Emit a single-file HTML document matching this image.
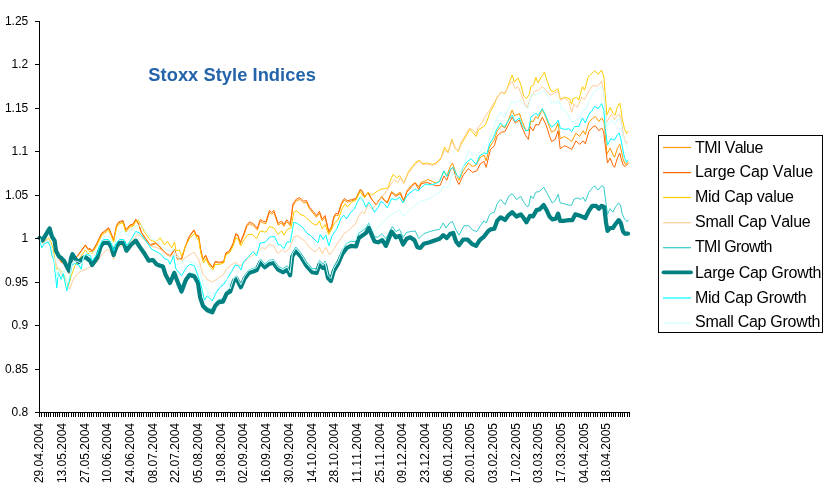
<!DOCTYPE html>
<html><head><meta charset="utf-8"><title>Stoxx Style Indices</title>
<style>html,body{margin:0;padding:0;background:#fff}svg{display:block}text{font-family:"Liberation Sans",Arial,sans-serif;font-kerning:none}</style></head><body>
<svg width="829" height="489" viewBox="0 0 829 489">
<rect width="829" height="489" fill="#fff"/>
<g fill="none" stroke-linejoin="round" stroke-linecap="round">
<polyline stroke="#FF9900" stroke-width="1.0" points="39.6,237.8 42.4,241.0 49.6,230.0 52.0,238.0 54.6,243.0 56.5,254.0 59.0,258.0 61.5,262.0 64.0,263.0 66.5,268.0 69.0,273.0 71.5,262.0 73.0,258.0 75.4,258.0 77.5,256.4 81.8,250.7 85.4,245.6 88.3,250.0 90.0,249.2 92.1,252.0 96.4,245.0 101.5,234.2 104.3,232.0 108.6,228.5 111.5,235.0 113.6,240.7 116.5,226.3 118.7,222.7 123.0,221.3 125.8,230.6 130.1,225.6 133.0,224.9 135.8,219.9 138.7,224.9 141.6,233.5 145.2,238.5 150.2,245.7 155.9,243.5 160.2,247.8 163.1,251.4 167.4,255.0 170.2,256.4 174.5,250.0 177.4,259.3 181.7,259.3 184.6,249.2 188.9,237.8 193.9,230.6 196.7,236.4 198.6,236.5 200.7,250.1 202.9,260.2 205.7,255.9 208.6,263.0 212.9,268.1 215.1,262.3 219.4,263.0 223.7,262.3 225.8,253.7 229.4,251.6 233.0,244.4 235.8,234.4 238.0,235.8 240.1,244.4 243.7,235.8 246.6,227.2 249.4,223.6 253.7,225.8 257.3,230.1 260.2,221.5 263.1,222.9 265.9,223.6 269.5,212.2 271.6,214.3 273.8,212.2 278.1,225.1 281.7,222.9 283.8,226.5 286.7,221.5 290.3,225.8 292.9,205.8 296.4,200.8 300.0,199.4 303.6,203.0 306.5,202.2 309.3,208.7 312.9,213.0 316.5,217.3 319.4,213.0 322.2,220.9 325.1,217.3 328.7,233.0 331.5,228.7 333.7,218.7 335.8,215.1 338.0,215.5 341.6,204.4 344.4,200.1 347.3,202.2 351.6,200.8 355.9,199.4 360.2,190.1 362.3,191.5 364.5,197.2 368.1,192.9 371.7,199.4 376.0,204.4 379.5,199.4 381.7,196.5 384.6,200.1 387.3,202.2 391.6,191.5 395.9,195.0 400.2,192.2 403.8,200.1 407.4,190.0 411.7,185.0 415.2,182.5 418.8,187.0 421.0,182.5 425.3,180.8 428.1,179.4 432.4,181.5 436.0,183.0 439.6,181.0 443.9,170.8 446.8,175.9 450.3,166.5 452.5,163.0 456.1,173.7 458.9,180.2 463.2,170.8 468.3,163.0 472.6,166.5 476.1,165.1 480.4,157.2 484.0,155.1 486.2,160.8 489.0,148.6 491.5,144.0 494.3,140.1 497.2,130.8 501.5,125.8 505.0,127.9 508.6,119.3 512.2,110.0 514.4,115.8 519.4,113.6 522.2,121.5 525.8,130.1 528.7,130.8 530.8,120.8 533.0,122.0 535.8,116.5 538.0,118.6 542.3,109.3 545.9,117.2 549.5,127.2 551.6,132.2 555.2,130.1 558.1,122.9 560.2,138.7 564.5,136.5 568.1,138.7 571.7,141.5 576.0,133.0 579.5,136.5 583.1,130.8 585.3,134.4 588.9,122.2 592.4,118.6 595.3,116.5 598.9,121.5 601.7,117.9 603.9,122.2 605.3,134.0 606.9,154.4 610.1,148.0 612.9,154.4 614.6,157.3 617.2,148.7 619.8,144.4 621.2,150.1 623.0,158.7 625.1,164.4 628.0,162.3"/>
<polyline stroke="#FF6600" stroke-width="1.0" points="39.6,238.3 42.4,241.5 49.6,230.5 52.0,238.5 54.6,243.5 56.5,254.5 59.0,258.5 61.5,262.5 64.0,263.5 66.5,268.5 69.0,273.5 71.5,262.5 73.0,258.5 75.4,258.5 77.5,255.6 81.8,249.9 85.4,244.8 88.3,249.2 90.0,248.4 92.1,251.2 96.4,244.2 101.5,233.4 104.3,231.2 108.6,227.7 111.5,234.2 113.6,239.9 116.5,225.5 118.7,221.9 123.0,220.5 125.8,229.8 130.1,224.8 133.0,224.1 135.8,219.1 138.7,224.1 141.6,232.7 145.2,237.7 150.2,244.9 155.9,242.7 160.2,247.0 163.1,250.6 167.4,254.2 170.2,255.6 174.5,249.2 177.4,258.5 181.7,258.5 184.6,248.4 188.9,237.0 193.9,229.8 196.7,235.6 198.6,235.7 200.7,249.3 202.9,259.4 205.7,255.1 208.6,262.2 212.9,267.3 215.1,261.5 219.4,262.2 223.7,261.5 225.8,252.9 229.4,250.8 233.0,243.6 235.8,233.6 238.0,235.0 240.1,242.6 243.7,234.0 246.6,225.4 249.4,221.8 253.7,224.0 257.3,228.3 260.2,219.7 263.1,221.1 265.9,221.8 269.5,210.4 271.6,212.5 273.8,210.4 278.1,223.3 281.7,221.1 283.8,224.7 286.7,219.7 290.3,224.0 292.9,204.0 296.4,199.0 300.0,197.6 303.6,201.2 306.5,200.4 309.3,206.9 312.9,211.2 316.5,215.5 319.4,211.2 322.2,219.1 325.1,215.5 328.7,231.2 331.5,226.9 333.7,216.9 335.8,213.3 338.0,213.7 341.6,202.7 344.4,198.5 347.3,200.8 351.6,199.6 355.9,198.5 360.2,189.4 362.3,190.9 364.5,196.7 368.1,192.6 371.7,199.3 376.0,204.6 379.5,199.8 381.7,197.0 384.6,200.8 387.3,203.0 391.6,192.5 395.9,196.3 400.2,193.7 403.8,201.6 406.7,192.3 411.7,186.6 415.2,183.0 418.8,189.5 421.0,184.0 426.7,182.3 432.4,184.5 436.0,185.9 440.3,185.2 443.9,175.9 446.8,180.2 450.3,170.1 453.2,167.3 456.1,178.7 458.9,184.5 463.2,175.1 468.3,168.7 472.6,172.3 476.9,170.8 480.4,163.7 484.0,161.5 486.2,167.3 489.0,155.1 490.5,149.4 494.3,145.8 497.2,135.8 501.5,132.2 505.0,131.5 508.6,124.4 512.2,117.2 515.1,122.9 519.4,120.1 522.2,127.9 525.8,135.8 528.4,139.4 530.1,126.5 533.0,130.8 535.8,124.4 538.7,125.1 542.3,117.2 545.9,124.4 549.5,135.8 551.6,141.5 555.2,139.4 558.1,130.8 560.2,148.7 564.5,145.8 568.1,147.3 571.7,149.4 576.0,140.8 579.5,144.4 583.1,140.8 585.3,143.7 588.9,131.5 592.4,127.2 595.3,125.8 598.9,130.8 601.7,127.9 603.6,131.5 605.5,147.2 607.5,163.0 610.1,158.0 612.9,165.2 614.6,167.3 617.2,158.7 619.8,153.0 621.2,158.7 623.2,165.2 625.1,166.6 628.0,163.7"/>
<polyline stroke="#FFCC00" stroke-width="1.0" points="39.6,237.8 42.0,243.0 45.0,241.0 48.5,238.0 51.0,242.0 53.5,250.0 56.0,269.3 58.9,268.0 61.8,272.1 64.7,276.4 68.2,286.5 71.1,276.4 74.7,266.4 77.5,262.0 81.8,255.0 85.4,250.0 88.3,254.0 90.0,250.7 92.1,253.5 96.4,246.5 101.5,235.7 104.3,233.5 108.6,230.0 111.5,236.5 113.6,242.2 116.5,227.8 118.7,224.2 123.0,222.8 125.8,232.1 130.1,227.1 133.0,226.4 135.8,221.4 138.7,220.6 144.4,232.0 150.2,240.0 155.9,242.0 160.2,237.8 164.5,245.0 167.4,241.4 171.7,247.8 174.5,242.0 176.0,250.7 179.5,250.0 181.7,256.4 185.3,246.4 189.6,238.5 194.6,233.5 197.4,239.2 198.6,238.7 200.7,253.0 203.6,263.0 205.7,258.7 209.3,265.9 212.9,270.0 215.1,264.5 219.4,264.5 223.7,263.0 225.8,255.2 229.4,253.0 233.0,246.6 235.8,238.0 238.0,238.7 240.8,245.8 244.4,239.4 248.0,234.4 252.3,234.4 256.6,238.7 260.2,230.8 263.1,231.5 265.9,232.2 269.5,226.5 273.8,227.9 278.1,234.4 281.7,230.8 283.8,235.1 287.4,229.4 291.0,227.9 293.8,212.2 296.7,210.7 300.0,214.4 304.3,215.8 308.6,220.1 312.9,223.7 316.5,225.2 319.4,220.9 322.2,228.7 325.1,224.4 328.7,234.5 331.5,229.5 334.4,223.0 338.0,220.1 342.3,208.0 345.2,203.7 347.3,207.2 351.6,202.2 355.9,200.1 360.2,191.5 364.5,197.9 368.1,192.2 371.7,195.1 376.0,192.2 380.3,189.3 384.6,188.6 388.1,187.9 390.3,180.7 393.2,174.3 396.7,177.9 399.6,175.7 403.9,183.0 408.1,172.3 412.4,166.5 416.0,162.2 419.5,160.1 422.4,163.7 427.4,163.0 432.4,164.4 436.0,163.0 441.0,158.0 444.6,147.2 448.2,152.2 451.8,139.3 455.4,148.6 458.2,151.5 461.1,144.3 465.4,137.2 469.7,129.3 473.3,132.9 476.1,136.5 478.3,130.0 482.6,127.1 485.4,125.0 488.0,118.0 490.0,112.3 493.6,105.8 497.2,97.2 501.5,92.2 505.0,93.7 508.6,84.4 512.2,75.0 514.4,82.2 517.9,77.9 520.8,84.4 523.7,95.8 526.5,98.7 529.4,94.4 530.8,86.5 533.7,85.1 535.8,77.2 538.0,82.9 541.6,76.5 544.4,72.2 547.3,81.5 550.9,90.8 553.8,91.5 558.1,88.7 560.2,99.4 564.5,97.2 569.5,98.7 571.7,104.4 573.1,98.7 576.7,97.2 578.8,100.1 582.4,86.5 584.6,90.1 588.1,77.2 590.3,75.0 594.6,70.7 598.2,74.3 601.7,70.0 603.9,77.2 605.3,95.8 606.9,115.2 610.1,107.3 612.9,113.0 615.1,115.2 617.2,107.3 619.7,103.0 620.8,108.5 622.2,118.6 624.4,128.6 626.5,133.6 628.0,131.5"/>
<polyline stroke="#FFCC99" stroke-width="1.0" points="39.6,237.8 43.0,242.0 47.0,240.0 50.3,244.0 53.2,255.7 57.5,267.8 61.8,275.0 66.8,282.0 69.7,289.3 73.2,279.3 77.5,273.6 81.8,270.7 86.1,269.3 90.4,266.4 94.0,264.5 97.2,262.0 100.7,256.4 104.3,252.0 107.9,249.2 111.5,253.5 113.6,259.3 117.2,249.2 120.8,245.7 124.4,246.4 126.5,247.0 131.5,240.7 137.3,234.9 140.1,235.6 147.3,242.8 151.6,246.4 157.3,247.8 161.6,250.0 167.4,255.0 171.7,256.4 176.0,253.5 181.7,260.7 187.4,256.4 193.7,252.1 198.7,259.3 203.0,274.4 207.3,279.4 212.3,282.2 217.3,278.7 223.0,275.1 226.6,268.6 230.8,265.2 235.8,262.3 240.1,265.9 244.4,262.3 249.4,257.3 253.7,254.4 258.0,251.6 262.3,247.3 265.0,249.4 269.3,244.4 273.6,245.8 277.9,253.7 282.2,249.4 285.1,252.2 289.4,248.7 293.7,237.2 297.2,235.8 303.7,240.1 309.4,247.2 315.1,252.2 319.4,247.2 322.3,253.7 325.9,247.2 329.5,255.1 333.8,249.4 338.1,242.2 341.6,238.0 343.7,233.8 347.3,231.6 351.6,227.3 355.2,224.5 358.8,215.8 362.3,211.5 364.5,213.7 368.1,204.4 372.4,209.4 376.0,204.4 378.8,201.5 381.7,197.2 384.6,193.6 388.1,188.6 391.0,184.3 394.6,179.3 397.4,182.9 400.3,177.9 403.9,183.5 408.1,173.7 412.4,168.0 416.0,163.7 419.5,161.0 422.4,164.5 427.4,164.0 432.4,165.4 436.0,164.0 441.0,159.0 444.6,150.0 448.2,153.0 451.8,141.0 455.4,148.0 458.2,151.0 461.1,142.2 465.4,135.0 469.7,127.9 473.3,130.5 476.1,133.6 478.3,127.1 481.0,124.0 485.0,117.0 490.0,109.4 495.7,100.1 500.7,92.2 505.0,93.0 508.6,85.8 512.2,81.5 515.1,88.7 517.9,86.5 520.8,93.0 524.4,103.0 527.2,108.0 530.1,98.7 534.4,91.5 538.7,90.1 542.3,86.5 545.9,90.1 550.2,95.1 554.5,93.0 558.1,91.5 560.9,100.1 564.5,98.0 568.8,101.5 571.7,112.3 573.8,104.4 577.4,107.3 581.7,97.2 584.6,99.4 588.9,90.8 593.2,85.1 597.4,86.5 601.3,81.5 603.4,88.7 604.6,103.0 606.5,123.0 609.3,117.3 611.5,114.4 614.4,119.5 617.2,115.9 619.4,114.4 620.8,118.5 622.7,130.1 624.4,138.7 626.5,143.0 628.0,142.0"/>
<polyline stroke="#33CCCC" stroke-width="1.0" points="39.6,237.8 42.4,240.5 49.6,228.2 51.8,236.1 54.6,240.4 56.0,250.4 58.9,256.1 61.0,257.5 63.9,260.3 66.0,264.6 69.0,270.3 71.1,257.3 72.5,253.7 75.4,258.7 79.0,261.5 83.3,257.1 85.4,256.4 89.0,259.3 90.0,259.9 92.1,264.2 97.2,256.9 100.7,245.5 103.6,241.8 108.6,241.8 111.5,246.7 113.6,253.9 116.5,245.3 119.4,241.6 123.7,241.6 126.5,249.4 130.8,243.6 135.8,239.3 139.4,244.9 144.4,251.9 148.7,259.1 153.0,258.3 156.6,262.6 160.0,264.0 162.9,264.7 165.7,273.2 170.0,281.1 174.3,270.9 178.6,282.3 181.5,289.4 185.8,277.9 189.4,272.9 194.4,274.2 198.0,280.7 200.1,294.9 203.0,303.5 207.3,307.7 212.3,309.7 215.2,303.3 218.7,299.6 223.0,298.9 226.6,290.9 230.2,288.7 233.8,277.9 236.6,275.8 240.9,284.2 244.5,275.7 248.8,269.8 253.1,268.3 256.7,266.8 260.3,258.9 264.6,263.9 269.3,260.3 273.6,259.5 277.9,265.9 282.9,268.7 287.2,265.7 290.1,271.5 292.2,252.8 295.8,247.0 300.8,252.6 306.5,262.0 312.3,268.3 316.6,268.9 319.4,260.3 323.0,263.8 325.2,260.9 328.0,273.7 330.9,276.6 333.8,266.6 338.1,259.3 342.4,249.2 346.7,243.5 351.0,241.2 356.0,241.8 358.8,233.2 363.1,230.3 366.0,228.1 368.9,223.0 371.7,230.2 374.6,236.6 378.0,237.3 381.6,233.7 385.9,238.7 392.3,226.6 395.9,231.6 399.5,229.4 403.1,237.3 406.7,232.3 411.0,231.6 415.2,230.9 418.8,238.7 423.8,233.7 429.6,231.6 435.3,230.1 439.6,229.4 443.2,223.0 446.0,228.0 449.6,223.0 452.5,221.5 456.1,230.1 459.0,235.2 464.0,225.8 469.0,225.8 472.6,230.1 476.9,231.6 480.4,225.8 484.0,220.8 486.2,223.0 489.7,214.4 492.0,213.0 494.3,212.2 497.2,203.7 500.7,199.4 505.0,204.4 508.6,196.5 512.2,193.6 516.5,199.4 520.8,196.5 523.7,202.2 527.0,206.5 528.7,206.0 530.8,195.8 533.0,198.6 535.8,192.2 539.4,191.5 543.7,187.2 546.6,192.2 549.5,197.9 552.3,202.9 555.2,200.8 558.1,194.3 560.2,202.9 564.5,203.7 568.1,205.1 571.7,205.1 573.8,199.4 577.4,197.9 581.0,199.4 583.1,197.2 585.3,201.5 588.9,192.2 592.4,187.9 594.6,185.7 598.2,190.0 601.7,185.7 603.9,187.2 605.3,198.0 607.5,214.4 610.1,208.7 612.9,212.2 615.8,206.5 618.7,202.9 620.4,205.1 622.2,213.7 624.4,218.7 627.0,221.6 628.0,220.1"/>
<polyline stroke="#008080" stroke-width="4.2" points="39.6,237.8 42.4,240.6 49.6,228.4 51.8,236.3 54.6,240.6 56.0,250.7 58.9,256.4 61.0,257.8 63.9,260.7 66.0,265.0 69.0,270.7 71.1,257.8 72.5,254.2 75.4,259.2 79.0,262.1 83.3,257.8 85.4,257.1 89.0,260.0 90.0,260.7 92.1,265.0 97.2,257.8 100.7,246.4 103.6,242.8 108.6,242.8 111.5,247.8 113.6,255.0 116.5,246.4 119.4,242.8 123.7,242.8 126.5,250.7 130.8,245.0 135.8,240.7 139.4,246.4 144.4,253.5 148.7,260.7 153.0,260.0 156.6,264.3 160.0,265.8 162.9,266.5 165.7,275.1 170.0,283.0 174.3,272.9 178.6,284.4 181.5,291.5 185.8,280.1 189.4,275.1 194.4,276.5 198.0,283.0 200.1,297.3 203.0,305.9 207.3,310.2 212.3,312.3 215.2,305.9 218.7,302.3 223.0,301.6 226.6,293.7 230.2,291.5 233.8,280.8 236.6,278.7 240.9,287.2 244.5,278.7 248.8,272.9 253.1,271.5 256.7,270.0 260.3,262.2 264.6,267.2 269.3,263.7 273.6,263.0 277.9,269.4 282.9,272.3 287.2,269.4 290.1,275.2 292.2,256.5 295.8,250.8 300.8,256.5 306.5,265.9 312.3,272.3 316.6,273.0 319.4,264.4 323.0,268.0 325.2,265.1 328.0,278.0 330.9,280.9 333.8,270.9 338.1,263.7 342.4,253.7 346.7,248.0 351.0,245.8 356.0,246.5 358.8,237.9 363.1,235.1 366.0,232.9 368.9,227.9 371.7,235.1 374.6,241.5 378.0,242.3 382.3,240.2 385.9,245.9 391.6,231.6 395.9,237.3 399.5,235.9 403.1,244.5 406.7,238.7 410.2,237.3 414.5,240.2 417.4,247.3 420.3,248.0 423.8,243.8 429.6,242.3 435.3,240.2 439.6,238.7 443.2,235.2 446.8,238.0 450.4,233.7 453.2,233.0 456.1,241.6 459.0,245.2 463.2,239.5 467.5,239.5 471.8,243.8 476.1,245.9 479.7,240.2 484.0,236.6 488.3,230.9 490.5,229.4 494.3,228.7 497.2,220.8 500.7,217.3 505.0,220.1 508.6,215.1 512.2,212.2 516.5,216.5 520.8,214.4 523.7,218.0 526.5,222.3 530.1,215.8 533.0,216.5 536.6,210.1 539.4,209.4 543.7,205.1 546.6,210.1 549.5,216.5 552.3,219.4 555.9,218.7 558.1,213.7 560.2,220.8 564.5,220.8 568.8,220.1 572.4,220.1 575.2,214.4 580.3,215.8 585.3,218.0 588.9,210.8 592.4,205.8 596.0,205.8 598.9,208.7 601.7,205.8 604.3,207.2 606.0,222.3 607.5,230.9 610.1,228.0 612.9,228.0 615.8,223.7 618.7,220.1 620.8,223.0 623.0,231.6 625.1,233.7 628.0,233.7"/>
<polyline stroke="#00FFFF" stroke-width="1.0" points="39.6,237.8 41.7,247.8 44.6,243.5 48.2,242.0 50.3,246.4 51.8,255.0 53.9,260.7 56.8,287.9 58.2,272.0 61.0,279.3 63.2,273.6 66.8,290.8 69.7,279.3 71.8,265.0 74.7,263.5 79.0,265.0 81.1,269.3 83.3,257.8 86.1,254.2 90.4,255.7 92.1,261.0 97.2,254.0 100.7,243.0 103.6,239.5 108.6,239.5 111.5,244.0 113.6,251.0 116.5,243.0 119.4,239.5 123.7,239.5 126.5,246.0 130.8,240.0 135.8,231.3 140.1,233.5 147.3,242.8 151.6,249.2 157.3,252.1 161.6,255.0 164.3,258.6 168.1,260.0 170.0,264.3 173.6,255.7 175.8,268.6 181.5,275.8 186.5,267.2 190.1,264.3 194.4,265.8 198.0,275.8 200.8,284.4 204.4,300.1 207.3,295.8 212.3,300.9 215.9,293.0 220.2,287.2 223.8,284.4 227.3,278.7 231.6,271.5 235.2,265.0 238.0,265.5 240.9,270.0 243.7,261.6 248.0,257.3 253.0,251.6 256.6,255.9 260.2,243.0 265.2,242.3 269.5,237.2 274.5,236.5 278.1,244.4 281.0,245.1 283.8,248.7 287.4,241.5 290.3,242.3 293.8,222.2 297.4,223.6 302.5,227.2 306.8,233.0 310.8,235.8 315.1,240.1 318.0,242.9 320.2,234.3 323.0,239.4 325.9,235.1 328.8,245.8 332.3,235.1 336.6,229.3 340.9,218.7 343.7,215.1 346.6,218.7 350.2,213.0 354.5,208.7 357.3,202.2 360.2,197.2 363.1,200.8 365.9,207.2 368.8,202.2 371.7,206.5 374.5,212.3 378.1,207.5 380.9,201.5 384.0,203.5 387.3,207.9 391.6,198.6 395.9,200.1 399.5,197.2 403.1,202.9 406.7,196.0 411.0,192.0 415.2,189.0 418.1,191.0 421.7,187.0 426.0,184.0 430.3,185.0 435.3,183.7 439.6,181.5 443.9,170.8 446.8,176.6 450.3,169.4 453.2,167.3 456.8,175.1 459.7,178.0 463.2,166.5 467.5,161.5 471.1,158.7 476.1,164.4 479.7,155.8 484.0,152.9 486.9,153.7 489.7,143.6 492.9,138.7 496.4,130.1 500.7,122.9 504.3,127.2 508.6,120.1 512.2,115.0 515.1,121.5 519.4,117.9 522.2,125.1 525.8,130.8 528.7,130.1 530.8,117.2 534.4,114.3 535.8,112.9 538.0,115.8 542.3,108.6 545.2,114.3 548.7,122.9 551.6,127.2 555.2,124.4 558.1,120.1 560.2,127.9 564.5,129.4 568.8,128.7 571.7,131.5 574.5,126.5 578.8,126.5 582.4,117.9 585.3,122.9 588.9,114.3 592.4,110.0 594.6,106.4 598.2,108.6 601.7,103.6 603.9,110.7 605.3,128.7 607.5,145.1 610.8,138.7 614.4,140.1 617.2,135.1 619.1,132.9 620.8,138.7 622.7,148.7 624.4,157.3 626.5,162.3 628.0,160.1"/>
<polyline stroke="#CCFFFF" stroke-width="1.0" points="39.6,237.8 42.0,245.0 45.0,242.0 48.5,240.0 51.0,245.0 54.0,258.0 57.0,278.0 59.0,268.0 62.0,274.0 64.0,270.0 67.0,284.0 70.0,275.0 72.0,263.0 75.0,261.0 79.0,262.0 82.0,264.0 84.0,256.0 87.0,252.0 90.4,253.0 97.0,250.0 101.0,241.0 104.0,237.0 108.6,236.0 111.5,241.0 113.6,247.0 116.5,238.0 119.4,233.0 124.4,230.6 127.0,236.0 130.8,230.0 134.4,226.3 141.6,225.6 150.2,236.4 157.0,242.0 161.6,246.0 166.0,250.0 170.2,250.7 173.6,249.0 176.0,256.0 181.7,262.1 186.5,260.0 190.0,262.5 194.4,262.2 199.4,268.6 203.0,284.4 205.8,287.2 210.1,297.3 214.4,293.0 220.2,285.8 224.5,281.5 227.5,279.0 230.2,289.0 233.8,278.3 236.6,276.2 240.9,284.7 244.5,276.2 248.8,270.4 253.1,269.0 256.7,267.5 260.3,259.7 264.6,264.7 269.3,261.2 273.6,260.5 277.9,266.9 282.9,269.8 287.2,266.9 290.1,272.7 292.2,254.0 295.8,248.3 300.8,254.0 306.5,263.4 312.3,269.8 316.6,270.5 319.4,261.9 323.0,265.5 325.2,262.6 328.0,275.5 330.9,278.4 333.8,268.4 338.1,261.2 342.4,250.0 345.2,243.7 351.0,240.0 356.0,240.0 358.0,229.3 363.0,229.0 368.9,222.0 373.1,231.0 375.3,230.8 378.0,228.0 382.3,222.3 386.6,218.7 392.3,214.4 399.5,210.1 403.1,216.5 411.0,208.7 416.7,204.4 419.5,201.5 425.3,200.1 431.0,197.9 435.3,194.3 439.6,193.0 443.2,186.6 446.8,188.0 449.6,185.2 452.5,172.3 456.1,176.6 459.7,175.1 464.0,163.7 469.0,150.8 471.8,154.4 476.9,155.8 480.4,150.8 484.7,147.2 488.3,145.1 490.0,137.2 493.6,128.7 497.2,117.3 500.7,112.3 504.3,117.3 507.9,110.1 511.5,101.5 515.1,103.0 520.1,100.1 524.4,105.8 528.0,108.7 531.5,95.1 535.8,94.4 540.1,93.0 543.7,90.1 547.3,95.1 551.6,103.0 554.5,101.5 556.0,104.3 558.8,100.1 561.6,109.4 564.5,110.1 568.1,114.4 571.7,122.3 576.0,120.2 579.5,118.7 583.1,110.1 586.0,109.4 589.6,99.4 593.2,93.0 597.4,89.4 601.7,86.5 603.9,93.0 605.3,112.0 606.5,127.0 608.6,123.0 611.5,120.2 614.4,124.5 617.2,120.2 619.4,118.7 620.8,122.0 622.2,131.5 624.4,141.5 627.5,148.7"/>
</g>
<g stroke="#000" stroke-width="1" shape-rendering="crispEdges" fill="none">
<line x1="39.5" y1="21" x2="39.5" y2="413"/>
<line x1="39" y1="412.5" x2="630" y2="412.5"/>
<path d="M35,21.5H39M35,64.5H39M35,108.5H39M35,151.5H39M35,195.5H39M35,238.5H39M35,282.5H39M35,325.5H39M35,369.5H39M35,412.5H39"/>
<path d="M39.5,412V417M41.5,412V417M44.5,412V417M46.5,412V417M48.5,412V417M50.5,412V417M53.5,412V417M55.5,412V417M57.5,412V417M59.5,412V417M62.5,412V417M64.5,412V417M66.5,412V417M68.5,412V417M71.5,412V417M73.5,412V417M75.5,412V417M78.5,412V417M80.5,412V417M82.5,412V417M84.5,412V417M87.5,412V417M89.5,412V417M91.5,412V417M93.5,412V417M96.5,412V417M98.5,412V417M100.5,412V417M103.5,412V417M105.5,412V417M107.5,412V417M109.5,412V417M112.5,412V417M114.5,412V417M116.5,412V417M118.5,412V417M121.5,412V417M123.5,412V417M125.5,412V417M128.5,412V417M130.5,412V417M132.5,412V417M134.5,412V417M137.5,412V417M139.5,412V417M141.5,412V417M143.5,412V417M146.5,412V417M148.5,412V417M150.5,412V417M152.5,412V417M155.5,412V417M157.5,412V417M159.5,412V417M162.5,412V417M164.5,412V417M166.5,412V417M168.5,412V417M171.5,412V417M173.5,412V417M175.5,412V417M177.5,412V417M180.5,412V417M182.5,412V417M184.5,412V417M186.5,412V417M189.5,412V417M191.5,412V417M193.5,412V417M196.5,412V417M198.5,412V417M200.5,412V417M202.5,412V417M205.5,412V417M207.5,412V417M209.5,412V417M211.5,412V417M214.5,412V417M216.5,412V417M218.5,412V417M221.5,412V417M223.5,412V417M225.5,412V417M227.5,412V417M230.5,412V417M232.5,412V417M234.5,412V417M236.5,412V417M239.5,412V417M241.5,412V417M243.5,412V417M246.5,412V417M248.5,412V417M250.5,412V417M252.5,412V417M255.5,412V417M257.5,412V417M259.5,412V417M261.5,412V417M264.5,412V417M266.5,412V417M268.5,412V417M270.5,412V417M273.5,412V417M275.5,412V417M277.5,412V417M280.5,412V417M282.5,412V417M284.5,412V417M286.5,412V417M289.5,412V417M291.5,412V417M293.5,412V417M295.5,412V417M298.5,412V417M300.5,412V417M302.5,412V417M304.5,412V417M307.5,412V417M309.5,412V417M311.5,412V417M314.5,412V417M316.5,412V417M318.5,412V417M320.5,412V417M323.5,412V417M325.5,412V417M327.5,412V417M329.5,412V417M332.5,412V417M334.5,412V417M336.5,412V417M339.5,412V417M341.5,412V417M343.5,412V417M345.5,412V417M348.5,412V417M350.5,412V417M352.5,412V417M354.5,412V417M357.5,412V417M359.5,412V417M361.5,412V417M364.5,412V417M366.5,412V417M368.5,412V417M370.5,412V417M373.5,412V417M375.5,412V417M377.5,412V417M379.5,412V417M382.5,412V417M384.5,412V417M386.5,412V417M388.5,412V417M391.5,412V417M393.5,412V417M395.5,412V417M398.5,412V417M400.5,412V417M402.5,412V417M404.5,412V417M407.5,412V417M409.5,412V417M411.5,412V417M413.5,412V417M416.5,412V417M418.5,412V417M420.5,412V417M422.5,412V417M425.5,412V417M427.5,412V417M429.5,412V417M432.5,412V417M434.5,412V417M436.5,412V417M438.5,412V417M441.5,412V417M443.5,412V417M445.5,412V417M447.5,412V417M450.5,412V417M452.5,412V417M454.5,412V417M457.5,412V417M459.5,412V417M461.5,412V417M463.5,412V417M466.5,412V417M468.5,412V417M470.5,412V417M472.5,412V417M475.5,412V417M477.5,412V417M479.5,412V417M482.5,412V417M484.5,412V417M486.5,412V417M488.5,412V417M491.5,412V417M493.5,412V417M495.5,412V417M497.5,412V417M500.5,412V417M502.5,412V417M504.5,412V417M506.5,412V417M509.5,412V417M511.5,412V417M513.5,412V417M516.5,412V417M518.5,412V417M520.5,412V417M522.5,412V417M525.5,412V417M527.5,412V417M529.5,412V417M531.5,412V417M534.5,412V417M536.5,412V417M538.5,412V417M540.5,412V417M543.5,412V417M545.5,412V417M547.5,412V417M550.5,412V417M552.5,412V417M554.5,412V417M556.5,412V417M559.5,412V417M561.5,412V417M563.5,412V417M565.5,412V417M568.5,412V417M570.5,412V417M572.5,412V417M575.5,412V417M577.5,412V417M579.5,412V417M581.5,412V417M584.5,412V417M586.5,412V417M588.5,412V417M590.5,412V417M593.5,412V417M595.5,412V417M597.5,412V417M600.5,412V417M602.5,412V417M604.5,412V417M606.5,412V417M609.5,412V417M611.5,412V417M613.5,412V417M615.5,412V417M618.5,412V417M620.5,412V417M622.5,412V417M624.5,412V417M627.5,412V417M629.5,412V417"/>
</g>
<g font-size="12" text-anchor="end" fill="#000">
<text x="28.3" y="25.0">1.25</text>
<text x="28.3" y="68.4">1.2</text>
<text x="28.3" y="111.9">1.15</text>
<text x="28.3" y="155.3">1.1</text>
<text x="28.3" y="198.8">1.05</text>
<text x="28.3" y="242.2">1</text>
<text x="28.3" y="285.7">0.95</text>
<text x="28.3" y="329.1">0.9</text>
<text x="28.3" y="372.6">0.85</text>
<text x="28.3" y="416.0">0.8</text>
</g>
<g font-size="12" text-anchor="end" fill="#000">
<text transform="translate(43.3,423) rotate(-90)">29.04.2004</text>
<text transform="translate(66.0,423) rotate(-90)">13.05.2004</text>
<text transform="translate(88.7,423) rotate(-90)">27.05.2004</text>
<text transform="translate(111.3,423) rotate(-90)">10.06.2004</text>
<text transform="translate(134.0,423) rotate(-90)">24.06.2004</text>
<text transform="translate(156.7,423) rotate(-90)">08.07.2004</text>
<text transform="translate(179.4,423) rotate(-90)">22.07.2004</text>
<text transform="translate(202.1,423) rotate(-90)">05.08.2004</text>
<text transform="translate(224.7,423) rotate(-90)">19.08.2004</text>
<text transform="translate(247.4,423) rotate(-90)">02.09.2004</text>
<text transform="translate(270.1,423) rotate(-90)">16.09.2004</text>
<text transform="translate(292.8,423) rotate(-90)">30.09.2004</text>
<text transform="translate(315.5,423) rotate(-90)">14.10.2004</text>
<text transform="translate(338.1,423) rotate(-90)">28.10.2004</text>
<text transform="translate(360.8,423) rotate(-90)">11.11.2004</text>
<text transform="translate(383.5,423) rotate(-90)">25.11.2004</text>
<text transform="translate(406.2,423) rotate(-90)">09.12.2004</text>
<text transform="translate(428.9,423) rotate(-90)">23.12.2004</text>
<text transform="translate(451.5,423) rotate(-90)">06.01.2005</text>
<text transform="translate(474.2,423) rotate(-90)">20.01.2005</text>
<text transform="translate(496.9,423) rotate(-90)">03.02.2005</text>
<text transform="translate(519.6,423) rotate(-90)">17.02.2005</text>
<text transform="translate(542.3,423) rotate(-90)">03.03.2005</text>
<text transform="translate(564.9,423) rotate(-90)">17.03.2005</text>
<text transform="translate(587.6,423) rotate(-90)">04.04.2005</text>
<text transform="translate(610.3,423) rotate(-90)">18.04.2005</text>
</g>
<text x="148.3" y="81.2" font-size="18.3" font-weight="bold" fill="#2464AA" textLength="167.5" lengthAdjust="spacing">Stoxx Style Indices</text>
<rect x="658.5" y="135.5" width="164" height="197" fill="#fff" stroke="#000" stroke-width="1" shape-rendering="crispEdges"/>
<clipPath id="lc"><rect x="659" y="136" width="163" height="196"/></clipPath>
<g clip-path="url(#lc)" font-size="16" fill="#000">
<line x1="663" y1="147.5" x2="691" y2="147.5" stroke="#FF9900" stroke-width="1.2"/>
<text x="695" y="152.6" textLength="68.3" lengthAdjust="spacing">TMI Value</text>
<line x1="663" y1="172.6" x2="691" y2="172.6" stroke="#FF6600" stroke-width="1.2"/>
<text x="695" y="177.3" textLength="118.2" lengthAdjust="spacing">Large Cap Value</text>
<line x1="663" y1="197.5" x2="691" y2="197.5" stroke="#FFCC00" stroke-width="1.2"/>
<text x="695" y="202.1" textLength="99" lengthAdjust="spacing">Mid Cap value</text>
<line x1="663" y1="222.7" x2="691" y2="222.7" stroke="#FFCC99" stroke-width="1.2"/>
<text x="695" y="227.3" textLength="115.7" lengthAdjust="spacing">Small Cap Value</text>
<line x1="663" y1="247.7" x2="691" y2="247.7" stroke="#33CCCC" stroke-width="1.2"/>
<text x="695" y="252.3" textLength="77.5" lengthAdjust="spacing">TMI Growth</text>
<line x1="663.5" y1="272.3" x2="691" y2="272.3" stroke="#008080" stroke-width="3.8" stroke-linecap="round"/>
<text x="695" y="277.6" textLength="126.5" lengthAdjust="spacing">Large Cap Growth</text>
<line x1="663" y1="298.0" x2="691" y2="298.0" stroke="#00FFFF" stroke-width="1.2"/>
<text x="695" y="302.6" textLength="111.7" lengthAdjust="spacing">Mid Cap Growth</text>
<line x1="663" y1="323.1" x2="691" y2="323.1" stroke="#CCFFFF" stroke-width="1.2"/>
<text x="695" y="327.3" textLength="125.5" lengthAdjust="spacing">Small Cap Growth</text>
</g>
</svg></body></html>
